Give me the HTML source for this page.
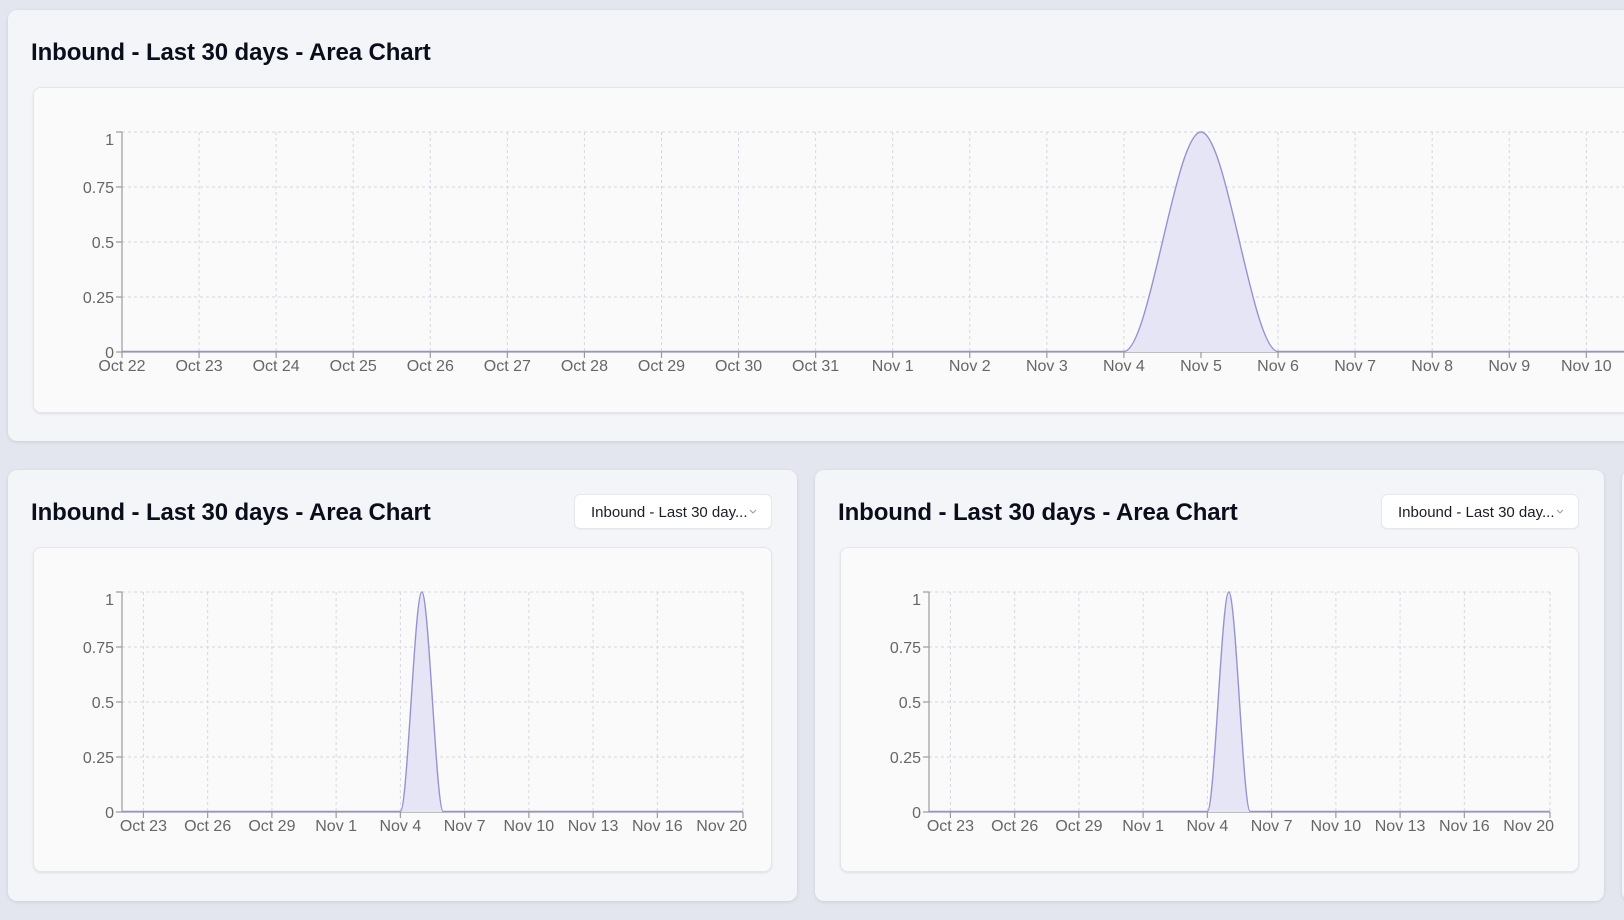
<!DOCTYPE html>
<html>
<head>
<meta charset="utf-8">
<style>
html,body{margin:0;padding:0;}
body{width:1624px;height:920px;background:#e3e6ee;position:relative;overflow:hidden;font-family:"Liberation Sans",sans-serif;}
.panel{position:absolute;background:#f4f5f9;border-radius:9px;box-shadow:0 1px 3px rgba(20,30,60,0.12);}
.card{position:absolute;background:#fafafb;border:1px solid #e4e6ec;border-radius:8px;box-shadow:0 1px 2px rgba(20,30,60,0.10);box-sizing:border-box;}
.dd{position:absolute;background:#ffffff;border:1px solid #e5e7ed;border-radius:6px;box-sizing:border-box;box-shadow:0 1px 1px rgba(0,0,0,0.03);}
svg{position:absolute;left:0;top:0;}
</style>
</head>
<body>
<div class="panel" style="left:8px;top:10px;width:1700px;height:431px;"></div>
<div class="card" style="left:33px;top:87px;width:1680px;height:326px;"></div>

<div class="panel" style="left:8px;top:470px;width:789px;height:431px;"></div>
<div class="card" style="left:33px;top:547px;width:739px;height:325px;"></div>
<div class="dd" style="left:574px;top:494px;width:198px;height:35px;"></div>

<div class="panel" style="left:815px;top:470px;width:789px;height:431px;"></div>
<div class="card" style="left:840px;top:547px;width:739px;height:325px;"></div>
<div class="dd" style="left:1381px;top:494px;width:198px;height:35px;"></div>

<div class="panel" style="left:1622px;top:470px;width:200px;height:431px;"></div>

<svg width="1624" height="920" viewBox="0 0 1624 920" xmlns="http://www.w3.org/2000/svg">
<g font-family="Liberation Sans, sans-serif">
  <text x="31" y="60" font-size="24" font-weight="bold" fill="#0a0e1a" letter-spacing="-0.1">Inbound - Last 30 days - Area Chart</text>
  <text x="31" y="520" font-size="24" font-weight="bold" fill="#0a0e1a" letter-spacing="-0.1">Inbound - Last 30 days - Area Chart</text>
  <text x="838" y="520" font-size="24" font-weight="bold" fill="#0a0e1a" letter-spacing="-0.1">Inbound - Last 30 days - Area Chart</text>
  <text x="591" y="517" font-size="15" fill="#1a1d26">Inbound - Last 30 day...</text>
  <polyline points="750,510 753,513 756,510" fill="none" stroke="#9a9ca4" stroke-width="1"/>
  <text x="1398" y="517" font-size="15" fill="#1a1d26">Inbound - Last 30 day...</text>
  <polyline points="1557,510 1560,513 1563,510" fill="none" stroke="#9a9ca4" stroke-width="1"/>
</g>

<!-- TOP CHART -->
<g id="top">
  <g stroke="#d6d7de" stroke-width="1" stroke-dasharray="3 3" fill="none">
    <line x1="122" y1="132" x2="1624" y2="132"/>
    <line x1="122" y1="187" x2="1624" y2="187"/>
    <line x1="122" y1="242" x2="1624" y2="242"/>
    <line x1="122" y1="297" x2="1624" y2="297"/>
    <line x1="199.07" y1="132" x2="199.07" y2="352"/>
    <line x1="276.14" y1="132" x2="276.14" y2="352"/>
    <line x1="353.21" y1="132" x2="353.21" y2="352"/>
    <line x1="430.28" y1="132" x2="430.28" y2="352"/>
    <line x1="507.35" y1="132" x2="507.35" y2="352"/>
    <line x1="584.42" y1="132" x2="584.42" y2="352"/>
    <line x1="661.49" y1="132" x2="661.49" y2="352"/>
    <line x1="738.56" y1="132" x2="738.56" y2="352"/>
    <line x1="815.63" y1="132" x2="815.63" y2="352"/>
    <line x1="892.7" y1="132" x2="892.7" y2="352"/>
    <line x1="969.77" y1="132" x2="969.77" y2="352"/>
    <line x1="1046.84" y1="132" x2="1046.84" y2="352"/>
    <line x1="1123.91" y1="132" x2="1123.91" y2="352"/>
    <line x1="1200.98" y1="132" x2="1200.98" y2="352"/>
    <line x1="1278.05" y1="132" x2="1278.05" y2="352"/>
    <line x1="1355.12" y1="132" x2="1355.12" y2="352"/>
    <line x1="1432.19" y1="132" x2="1432.19" y2="352"/>
    <line x1="1509.26" y1="132" x2="1509.26" y2="352"/>
    <line x1="1586.33" y1="132" x2="1586.33" y2="352"/>
  </g>
  <g stroke="#9b9b9b" stroke-width="1.2" fill="none">
    <line x1="122" y1="131.5" x2="122" y2="352"/>
    <line x1="122" y1="352" x2="1624" y2="352"/>
    <line x1="116" y1="132" x2="122" y2="132"/>
    <line x1="116" y1="187" x2="122" y2="187"/>
    <line x1="116" y1="242" x2="122" y2="242"/>
    <line x1="116" y1="297" x2="122" y2="297"/>
    <line x1="116" y1="352" x2="122" y2="352"/>
    <line x1="122" y1="352" x2="122" y2="358"/>
    <line x1="199.07" y1="352" x2="199.07" y2="358"/>
    <line x1="276.14" y1="352" x2="276.14" y2="358"/>
    <line x1="353.21" y1="352" x2="353.21" y2="358"/>
    <line x1="430.28" y1="352" x2="430.28" y2="358"/>
    <line x1="507.35" y1="352" x2="507.35" y2="358"/>
    <line x1="584.42" y1="352" x2="584.42" y2="358"/>
    <line x1="661.49" y1="352" x2="661.49" y2="358"/>
    <line x1="738.56" y1="352" x2="738.56" y2="358"/>
    <line x1="815.63" y1="352" x2="815.63" y2="358"/>
    <line x1="892.7" y1="352" x2="892.7" y2="358"/>
    <line x1="969.77" y1="352" x2="969.77" y2="358"/>
    <line x1="1046.84" y1="352" x2="1046.84" y2="358"/>
    <line x1="1123.91" y1="352" x2="1123.91" y2="358"/>
    <line x1="1200.98" y1="352" x2="1200.98" y2="358"/>
    <line x1="1278.05" y1="352" x2="1278.05" y2="358"/>
    <line x1="1355.12" y1="352" x2="1355.12" y2="358"/>
    <line x1="1432.19" y1="352" x2="1432.19" y2="358"/>
    <line x1="1509.26" y1="352" x2="1509.26" y2="358"/>
    <line x1="1586.33" y1="352" x2="1586.33" y2="358"/>
  </g>
  <path d="M1123.91,352 C1149.6,352 1175.29,132 1200.98,132 C1226.67,132 1252.36,352 1278.05,352 Z" fill="#e6e5f5" stroke="none"/>
  <path d="M122,351.5 L1123.91,351.5 C1149.6,351.5 1175.29,132 1200.98,132 C1226.67,132 1252.36,351.5 1278.05,351.5 L1624,351.5" fill="none" stroke="#9692d2" stroke-width="1.4"/>
  <g font-family="Liberation Sans, sans-serif" font-size="16" fill="#666666">
    <g text-anchor="end">
      <text x="114" y="145">1</text>
      <text x="114" y="193">0.75</text>
      <text x="114" y="248">0.5</text>
      <text x="114" y="303">0.25</text>
      <text x="114" y="358">0</text>
    </g>
    <g text-anchor="middle">
      <text x="122" y="371">Oct 22</text>
      <text x="199.07" y="371">Oct 23</text>
      <text x="276.14" y="371">Oct 24</text>
      <text x="353.21" y="371">Oct 25</text>
      <text x="430.28" y="371">Oct 26</text>
      <text x="507.35" y="371">Oct 27</text>
      <text x="584.42" y="371">Oct 28</text>
      <text x="661.49" y="371">Oct 29</text>
      <text x="738.56" y="371">Oct 30</text>
      <text x="815.63" y="371">Oct 31</text>
      <text x="892.7" y="371">Nov 1</text>
      <text x="969.77" y="371">Nov 2</text>
      <text x="1046.84" y="371">Nov 3</text>
      <text x="1123.91" y="371">Nov 4</text>
      <text x="1200.98" y="371">Nov 5</text>
      <text x="1278.05" y="371">Nov 6</text>
      <text x="1355.12" y="371">Nov 7</text>
      <text x="1432.19" y="371">Nov 8</text>
      <text x="1509.26" y="371">Nov 9</text>
      <text x="1586.33" y="371">Nov 10</text>
    </g>
  </g>
</g>

<!-- BOTTOM LEFT CHART -->
<g id="bl">
  <g stroke="#d6d7de" stroke-width="1" stroke-dasharray="3 3" fill="none">
    <line x1="122" y1="592" x2="743" y2="592"/>
    <line x1="122" y1="647" x2="743" y2="647"/>
    <line x1="122" y1="702" x2="743" y2="702"/>
    <line x1="122" y1="757" x2="743" y2="757"/>
    <line x1="143.41" y1="592" x2="143.41" y2="812"/>
    <line x1="207.66" y1="592" x2="207.66" y2="812"/>
    <line x1="271.9" y1="592" x2="271.9" y2="812"/>
    <line x1="336.14" y1="592" x2="336.14" y2="812"/>
    <line x1="400.38" y1="592" x2="400.38" y2="812"/>
    <line x1="464.62" y1="592" x2="464.62" y2="812"/>
    <line x1="528.86" y1="592" x2="528.86" y2="812"/>
    <line x1="593.1" y1="592" x2="593.1" y2="812"/>
    <line x1="657.34" y1="592" x2="657.34" y2="812"/>
    <line x1="743" y1="592" x2="743" y2="812"/>
  </g>
  <g stroke="#9b9b9b" stroke-width="1.2" fill="none">
    <line x1="122" y1="591.5" x2="122" y2="812"/>
    <line x1="122" y1="812" x2="743" y2="812"/>
    <line x1="116" y1="592" x2="122" y2="592"/>
    <line x1="116" y1="647" x2="122" y2="647"/>
    <line x1="116" y1="702" x2="122" y2="702"/>
    <line x1="116" y1="757" x2="122" y2="757"/>
    <line x1="116" y1="812" x2="122" y2="812"/>
    <line x1="143.41" y1="812" x2="143.41" y2="818"/>
    <line x1="207.66" y1="812" x2="207.66" y2="818"/>
    <line x1="271.9" y1="812" x2="271.9" y2="818"/>
    <line x1="336.14" y1="812" x2="336.14" y2="818"/>
    <line x1="400.38" y1="812" x2="400.38" y2="818"/>
    <line x1="464.62" y1="812" x2="464.62" y2="818"/>
    <line x1="528.86" y1="812" x2="528.86" y2="818"/>
    <line x1="593.1" y1="812" x2="593.1" y2="818"/>
    <line x1="657.34" y1="812" x2="657.34" y2="818"/>
    <line x1="743" y1="812" x2="743" y2="818"/>
  </g>
  <path d="M400.38,812 C407.52,812 414.66,592 421.8,592 C428.94,592 436.08,812 443.22,812 Z" fill="#e6e5f5"/>
  <path d="M122,811.5 L400.38,811.5 C407.52,811.5 414.66,592 421.8,592 C428.94,592 436.08,811.5 443.22,811.5 L743,811.5" fill="none" stroke="#9692d2" stroke-width="1.4"/>
  <g font-family="Liberation Sans, sans-serif" font-size="16" fill="#666666">
    <g text-anchor="end">
      <text x="114" y="605">1</text>
      <text x="114" y="653">0.75</text>
      <text x="114" y="708">0.5</text>
      <text x="114" y="763">0.25</text>
      <text x="114" y="818">0</text>
      <text x="747" y="831">Nov 20</text>
    </g>
    <g text-anchor="middle">
      <text x="143.41" y="831">Oct 23</text>
      <text x="207.66" y="831">Oct 26</text>
      <text x="271.9" y="831">Oct 29</text>
      <text x="336.14" y="831">Nov 1</text>
      <text x="400.38" y="831">Nov 4</text>
      <text x="464.62" y="831">Nov 7</text>
      <text x="528.86" y="831">Nov 10</text>
      <text x="593.1" y="831">Nov 13</text>
      <text x="657.34" y="831">Nov 16</text>
    </g>
  </g>
</g>

<!-- BOTTOM RIGHT CHART -->
<g transform="translate(807,0)">
  <g stroke="#d6d7de" stroke-width="1" stroke-dasharray="3 3" fill="none">
    <line x1="122" y1="592" x2="743" y2="592"/>
    <line x1="122" y1="647" x2="743" y2="647"/>
    <line x1="122" y1="702" x2="743" y2="702"/>
    <line x1="122" y1="757" x2="743" y2="757"/>
    <line x1="143.41" y1="592" x2="143.41" y2="812"/>
    <line x1="207.66" y1="592" x2="207.66" y2="812"/>
    <line x1="271.9" y1="592" x2="271.9" y2="812"/>
    <line x1="336.14" y1="592" x2="336.14" y2="812"/>
    <line x1="400.38" y1="592" x2="400.38" y2="812"/>
    <line x1="464.62" y1="592" x2="464.62" y2="812"/>
    <line x1="528.86" y1="592" x2="528.86" y2="812"/>
    <line x1="593.1" y1="592" x2="593.1" y2="812"/>
    <line x1="657.34" y1="592" x2="657.34" y2="812"/>
    <line x1="743" y1="592" x2="743" y2="812"/>
  </g>
  <g stroke="#9b9b9b" stroke-width="1.2" fill="none">
    <line x1="122" y1="591.5" x2="122" y2="812"/>
    <line x1="122" y1="812" x2="743" y2="812"/>
    <line x1="116" y1="592" x2="122" y2="592"/>
    <line x1="116" y1="647" x2="122" y2="647"/>
    <line x1="116" y1="702" x2="122" y2="702"/>
    <line x1="116" y1="757" x2="122" y2="757"/>
    <line x1="116" y1="812" x2="122" y2="812"/>
    <line x1="143.41" y1="812" x2="143.41" y2="818"/>
    <line x1="207.66" y1="812" x2="207.66" y2="818"/>
    <line x1="271.9" y1="812" x2="271.9" y2="818"/>
    <line x1="336.14" y1="812" x2="336.14" y2="818"/>
    <line x1="400.38" y1="812" x2="400.38" y2="818"/>
    <line x1="464.62" y1="812" x2="464.62" y2="818"/>
    <line x1="528.86" y1="812" x2="528.86" y2="818"/>
    <line x1="593.1" y1="812" x2="593.1" y2="818"/>
    <line x1="657.34" y1="812" x2="657.34" y2="818"/>
    <line x1="743" y1="812" x2="743" y2="818"/>
  </g>
  <path d="M400.38,812 C407.52,812 414.66,592 421.8,592 C428.94,592 436.08,812 443.22,812 Z" fill="#e6e5f5"/>
  <path d="M122,811.5 L400.38,811.5 C407.52,811.5 414.66,592 421.8,592 C428.94,592 436.08,811.5 443.22,811.5 L743,811.5" fill="none" stroke="#9692d2" stroke-width="1.4"/>
  <g font-family="Liberation Sans, sans-serif" font-size="16" fill="#666666">
    <g text-anchor="end">
      <text x="114" y="605">1</text>
      <text x="114" y="653">0.75</text>
      <text x="114" y="708">0.5</text>
      <text x="114" y="763">0.25</text>
      <text x="114" y="818">0</text>
      <text x="747" y="831">Nov 20</text>
    </g>
    <g text-anchor="middle">
      <text x="143.41" y="831">Oct 23</text>
      <text x="207.66" y="831">Oct 26</text>
      <text x="271.9" y="831">Oct 29</text>
      <text x="336.14" y="831">Nov 1</text>
      <text x="400.38" y="831">Nov 4</text>
      <text x="464.62" y="831">Nov 7</text>
      <text x="528.86" y="831">Nov 10</text>
      <text x="593.1" y="831">Nov 13</text>
      <text x="657.34" y="831">Nov 16</text>
    </g>
  </g>
</g>
</svg>
</body>
</html>
